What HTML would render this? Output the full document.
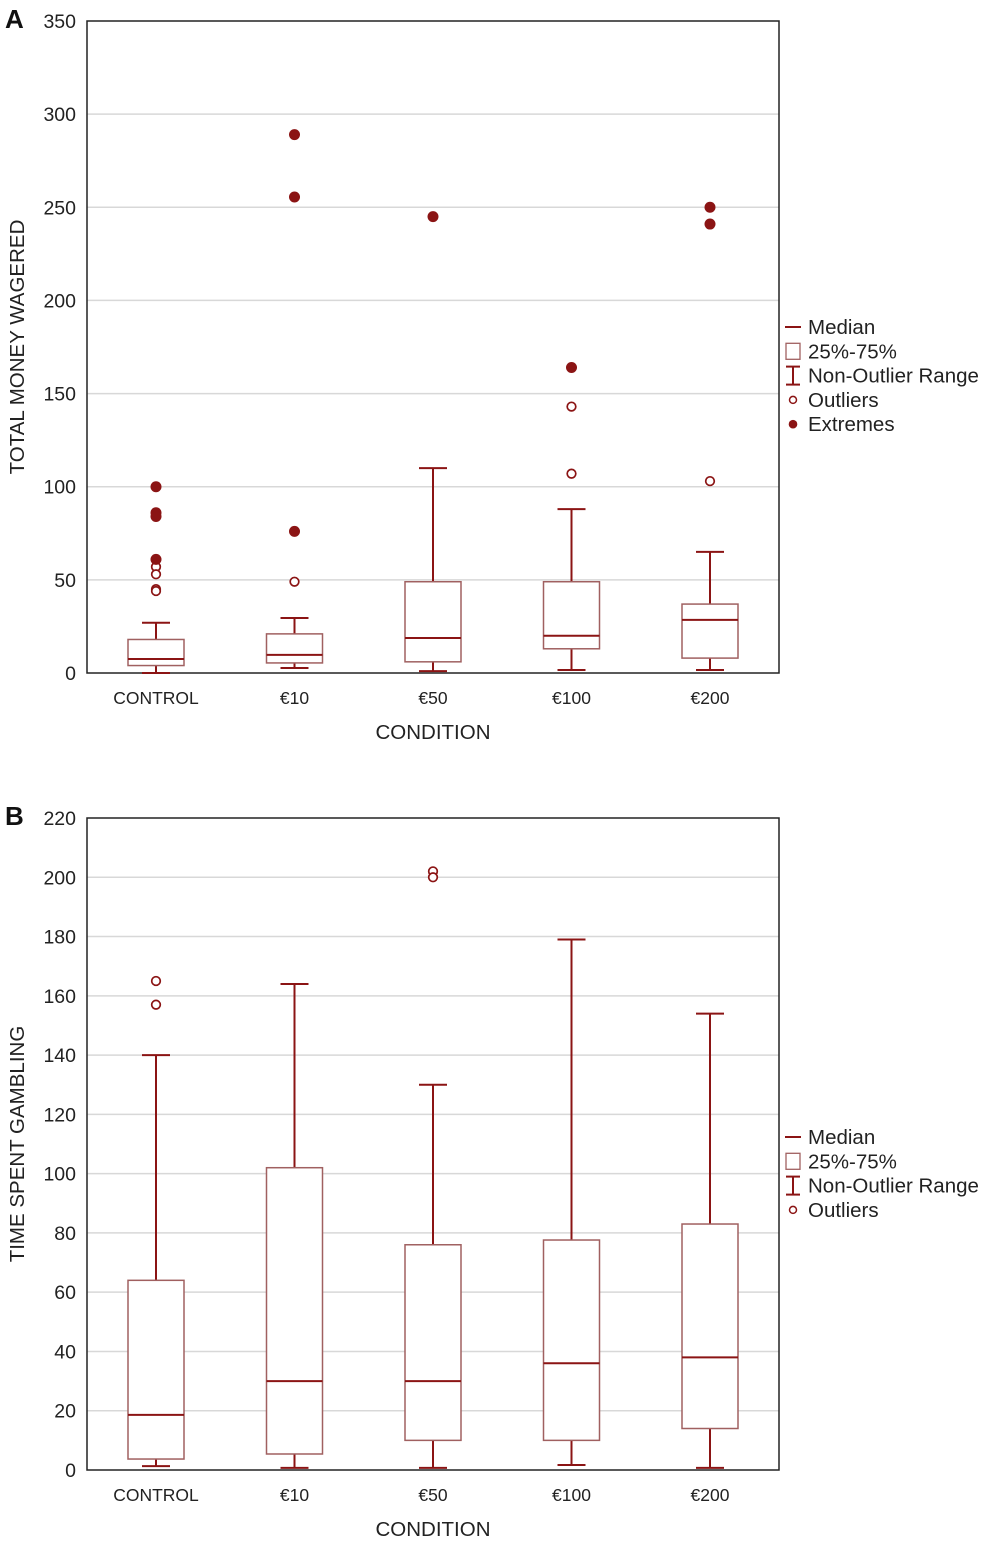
<!DOCTYPE html>
<html><head><meta charset="utf-8"><style>
body{margin:0;background:#fff;}
svg{display:block;font-family:"Liberation Sans",sans-serif;}
</style></head><body>
<svg id="chart" width="992" height="1544" viewBox="0 0 992 1544"></svg>
<script>
const categories=["CONTROL","€10","€50","€100","€200"];
// Panel A: total money wagered
const aWhiskerLow=[0,2.7,1,1.6,1.6];
const aQ1=[4,5.4,6,13,8];
const aMedian=[7.5,9.7,18.8,20,28.5];
const aQ3=[18,21,49,49,37];
const aWhiskerHigh=[27,29.5,110,88,65];
const aOutliers=[[57,53,45,44],[49],[],[107,143],[103]];
const aExtremes=[[100,86,84,61],[76,255.5,289],[245],[164],[250,241]];
const aTicks=[0,50,100,150,200,250,300,350];
// Panel B: time spent gambling
const bWhiskerLow=[1.3,0.7,0.7,1.7,0.7];
const bQ1=[3.7,5.4,10,10,14];
const bMedian=[18.6,30,30,36,38];
const bQ3=[64,102,76,77.6,83];
const bWhiskerHigh=[140,164,130,179,154];
const bOutliers=[[165,157],[],[202,200],[],[]];
const bExtremes=[[],[],[],[],[]];
const bTicks=[0,20,40,60,80,100,120,140,160,180,200,220];

const NS="http://www.w3.org/2000/svg";
const svg=document.getElementById("chart");
const DARK="#8b1414", BOX="#a06060";
function mk(tag,attrs,parent,text){const e=document.createElementNS(NS,tag);for(const k in attrs)e.setAttribute(k,attrs[k]);if(text!==undefined)e.textContent=text;(parent||svg).appendChild(e);return e;}

function panel(cfg){
  const g=mk("g",{});
  
  
  const L=87,R=779,T=cfg.top,B=cfg.bottom;
  const y=v=>B-(v/cfg.max)*(B-T);
  const x=i=>156+i*138.5;
  cfg.ticks.forEach(t=>{
    if(t>0&&t<cfg.max){const gl=mk("line",{x1:L,x2:R,y1:y(t),y2:y(t),stroke:"#d8d8d8","stroke-width":1.5},g);
      }
    const tl=mk("text",{x:76,y:y(t)+7,"text-anchor":"end","font-size":19.5,fill:"#222"},g,String(t));
    
  });
  const fr=mk("rect",{x:L,y:T,width:R-L,height:B-T,fill:"none",stroke:"#222","stroke-width":1.5},g);
  
  categories.forEach((c,i)=>{
    const cx=x(i);
    const bg=mk("g",{},g);
    
    mk("line",{x1:cx,x2:cx,y1:y(cfg.wh[i]),y2:y(cfg.q3[i]),stroke:DARK,"stroke-width":2},bg);
    mk("line",{x1:cx,x2:cx,y1:y(cfg.q1[i]),y2:y(cfg.wl[i]),stroke:DARK,"stroke-width":2},bg);
    mk("line",{x1:cx-14,x2:cx+14,y1:y(cfg.wh[i]),y2:y(cfg.wh[i]),stroke:DARK,"stroke-width":2},bg);
    mk("line",{x1:cx-14,x2:cx+14,y1:y(cfg.wl[i]),y2:y(cfg.wl[i]),stroke:DARK,"stroke-width":2},bg);
    mk("rect",{x:cx-28,y:y(cfg.q3[i]),width:56,height:y(cfg.q1[i])-y(cfg.q3[i]),fill:"#fff",stroke:BOX,"stroke-width":1.5},bg);
    mk("line",{x1:cx-28,x2:cx+28,y1:y(cfg.med[i]),y2:y(cfg.med[i]),stroke:DARK,"stroke-width":2},bg);
    cfg.out[i].forEach(v=>{const p=mk("circle",{cx:cx,cy:y(v),r:4.3,fill:"#fff",stroke:DARK,"stroke-width":1.7},g);
      });
    cfg.ext[i].forEach(v=>{const p=mk("circle",{cx:cx,cy:y(v),r:5.5,fill:DARK},g);
      });
    const xl=mk("text",{x:cx,y:B+31,"text-anchor":"middle","font-size":17.5,fill:"#222"},g,c);
    
  });
  const xt=mk("text",{x:433,y:B+66,"text-anchor":"middle","font-size":20.5,fill:"#222"},g,"CONDITION");
  
  const yt=mk("text",{x:0,y:0,"text-anchor":"middle","font-size":20.5,fill:"#222",transform:`translate(24,${(T+B)/2}) rotate(-90)`},g,cfg.ytitle);
  
  const pl=mk("text",{x:5,y:T+7,"font-size":26,"font-weight":"bold",fill:"#111"},g,cfg.letter);
  
  const lg=mk("g",{},g);
  
  cfg.legend.forEach((lab,k)=>{
    const ly=cfg.legTop+k*24.3;
    if(k===0)mk("line",{x1:785,x2:801,y1:ly,y2:ly,stroke:DARK,"stroke-width":2},lg);
    if(k===1)mk("rect",{x:786,y:ly-8,width:14,height:16,fill:"#fff",stroke:BOX,"stroke-width":1.3},lg);
    if(k===2){mk("line",{x1:793,x2:793,y1:ly-9,y2:ly+9,stroke:DARK,"stroke-width":2},lg);
      mk("line",{x1:786,x2:800,y1:ly-9,y2:ly-9,stroke:DARK,"stroke-width":2},lg);
      mk("line",{x1:786,x2:800,y1:ly+9,y2:ly+9,stroke:DARK,"stroke-width":2},lg);}
    if(k===3)mk("circle",{cx:793,cy:ly,r:3.5,fill:"#fff",stroke:DARK,"stroke-width":1.5},lg);
    if(k===4)mk("circle",{cx:793,cy:ly,r:4.3,fill:DARK},lg);
    const t=mk("text",{x:808,y:ly+7,"font-size":20.5,fill:"#222"},lg,lab);
    
  });
}
panel({name:"panel-a",letter:"A",top:21,bottom:673,max:350,ticks:aTicks,wl:aWhiskerLow,q1:aQ1,med:aMedian,q3:aQ3,wh:aWhiskerHigh,out:aOutliers,ext:aExtremes,ytitle:"TOTAL MONEY WAGERED",legTop:327,legend:["Median","25%-75%","Non-Outlier Range","Outliers","Extremes"]});
panel({name:"panel-b",letter:"B",top:818,bottom:1470,max:220,ticks:bTicks,wl:bWhiskerLow,q1:bQ1,med:bMedian,q3:bQ3,wh:bWhiskerHigh,out:bOutliers,ext:bExtremes,ytitle:"TIME SPENT GAMBLING",legTop:1137,legend:["Median","25%-75%","Non-Outlier Range","Outliers"]});
</script>
</body></html>
